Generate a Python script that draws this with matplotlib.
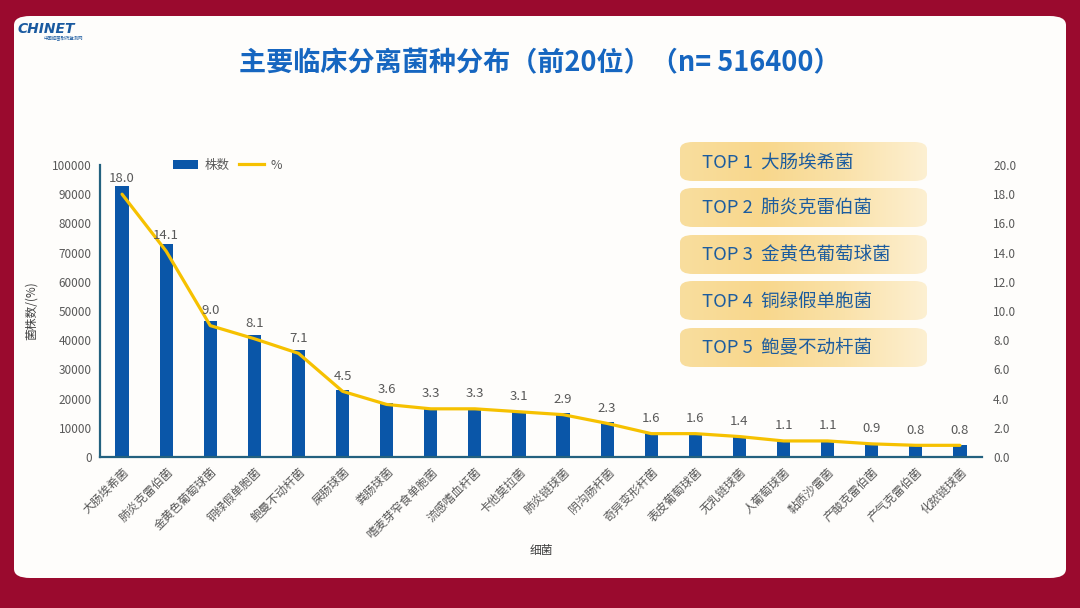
import matplotlib
matplotlib.use("Agg")
import matplotlib.pyplot as plt
import numpy as np
from matplotlib.patches import FancyBboxPatch, Patch
from matplotlib.lines import Line2D
from matplotlib.colors import LinearSegmentedColormap

plt.rcParams['font.family'] = ['Noto Sans CJK SC', 'DejaVu Sans']

categories = ["大肠埃希菌", "肺炎克雷伯菌", "金黄色葡萄球菌", "铜绿假单胞菌", "鲍曼不动杆菌",
              "屎肠球菌", "粪肠球菌", "嗜麦芽窄食单胞菌", "流感嗜血杆菌", "卡他莫拉菌",
              "肺炎链球菌", "阴沟肠杆菌", "奇异变形杆菌", "表皮葡萄球菌", "无乳链球菌",
              "人葡萄球菌", "黏质沙雷菌", "产酸克雷伯菌", "产气克雷伯菌", "化脓链球菌"]
counts = [92800, 72900, 46600, 41800, 36500, 23000, 18600, 16900, 16700, 15900,
          15000, 12000, 8200, 8100, 7100, 5600, 5600, 4600, 4000, 4000]
pct = [18.0, 14.1, 9.0, 8.1, 7.1, 4.5, 3.6, 3.3, 3.3, 3.1,
       2.9, 2.3, 1.6, 1.6, 1.4, 1.1, 1.1, 0.9, 0.8, 0.8]
left_ticks = [0, 10000, 20000, 30000, 40000, 50000, 60000, 70000, 80000, 90000, 100000]
right_ticks = [0, 2, 4, 6, 8, 10, 12, 14, 16, 18, 20]
top5 = ["TOP 1  大肠埃希菌", "TOP 2  肺炎克雷伯菌", "TOP 3  金黄色葡萄球菌",
        "TOP 4  铜绿假单胞菌", "TOP 5  鲍曼不动杆菌"]
title = "主要临床分离菌种分布（前20位）（n= 516400）"

W, H = 1080, 608
fig = plt.figure(figsize=(W / 100, H / 100), dpi=100)
fig.patch.set_facecolor("#9A0A2E")

# white card
card = FancyBboxPatch((14 / W, (H - 578) / H), (1066 - 14) / W, (578 - 16) / H,
                      boxstyle="round,pad=0,rounding_size=0.015",
                      transform=fig.transFigure, facecolor="#FEFDFB",
                      edgecolor="none", zorder=-10)
fig.patches.append(card)

# logo
fig.text(18 / W, 1 - 29 / H, "CHINET", fontsize=10, fontweight="bold", style="italic",
         color="#1A5AA0", va="center", ha="left", family=["DejaVu Sans"])
fig.text(44 / W, 1 - 39 / H, "中国细菌耐药监测网", fontsize=3.2, color="#1A5AA0",
         va="center", ha="left")

# title
fig.text(540 / W, 1 - 63 / H, title, fontsize=19.5, fontweight="bold", color="#1666C0",
         ha="center", va="center")

# axes
ax = fig.add_axes([100 / W, (H - 457) / H, (982 - 100) / W, (457 - 165) / H])
ax.set_facecolor("none")
x = np.arange(len(categories))
ax.bar(x, counts, width=0.3, color="#0A56A8", zorder=2, label="株数")
ax.set_xlim(-0.5, len(categories) - 0.5)
ax.set_ylim(0, 100000)
ax.set_yticks(left_ticks)
ax.set_yticklabels([str(v) for v in left_ticks])
ax.set_xticks(x)
ax.set_xticklabels(categories, rotation=45, ha="right", va="top", rotation_mode="anchor")
ax.tick_params(axis="both", length=0, labelsize=8.5, labelcolor="#595959")
ax.tick_params(axis="x", pad=6)
ax.tick_params(axis="y", pad=6)
for s in ["top", "right"]:
    ax.spines[s].set_visible(False)
for s in ["left", "bottom"]:
    ax.spines[s].set_color("#23617F")
    ax.spines[s].set_linewidth(1.6)
ax.set_ylabel("菌株数/(%)", fontsize=8.5, color="#404040", labelpad=10)
ax.set_xlabel("细菌", fontsize=8.5, color="#404040", labelpad=2)

ax2 = ax.twinx()
ax2.set_ylim(0, 20)
ax2.set_yticks(right_ticks)
ax2.set_yticklabels([f"{v:.1f}" for v in right_ticks])
ax2.tick_params(axis="y", length=0, labelsize=8.5, labelcolor="#595959", pad=8)
for s in ["top", "right", "left", "bottom"]:
    ax2.spines[s].set_visible(False)
ax2.plot(x, pct, color="#F6C100", linewidth=2.3, zorder=3, solid_capstyle="round")
for xi, p in zip(x, pct):
    ax2.annotate(f"{p:.1f}", (xi, p), xytext=(0, 11), textcoords="offset points",
                 ha="center", va="center", fontsize=9.5, color="#595959")

handles = [Patch(facecolor="#0A56A8", edgecolor="none"),
           Line2D([0], [0], color="#F6C100", lw=2.3)]
ax.legend(handles, ["株数", "%"], ncol=2, frameon=False, loc="upper left",
          bbox_to_anchor=(0.07, 1.06), fontsize=9, labelcolor="#595959",
          handlelength=2.0, handletextpad=0.5, columnspacing=0.8)

# TOP boxes with gradient
grad = np.linspace(0, 1, 256).reshape(1, -1)
cmap = LinearSegmentedColormap.from_list("g", ["#F9DE9E", "#F8D78C", "#FAE2AA", "#FDF0D2"])
box_tops = [142, 188, 235, 281, 328]
for t, label in zip(box_tops, top5):
    x0, x1 = 680, 927
    y0, y1 = t, t + 39
    patch = FancyBboxPatch((x0 / W, (H - y1) / H), (x1 - x0) / W, (y1 - y0) / H,
                           boxstyle="round,pad=0,rounding_size=0.012",
                           transform=fig.transFigure, facecolor="none",
                           edgecolor="none")
    iax = fig.add_axes([x0 / W, (H - y1) / H, (x1 - x0) / W, (y1 - y0) / H])
    iax.set_axis_off()
    img = iax.imshow(grad, cmap=cmap, aspect="auto", extent=(0, 1, 0, 1))
    img.set_clip_path(patch)
    iax.text(0.09, 0.47, label, fontsize=13.3, color="#1C5C9E", ha="left", va="center",
             transform=iax.transAxes)

fig.savefig("out.png", dpi=100, facecolor=fig.get_facecolor())
